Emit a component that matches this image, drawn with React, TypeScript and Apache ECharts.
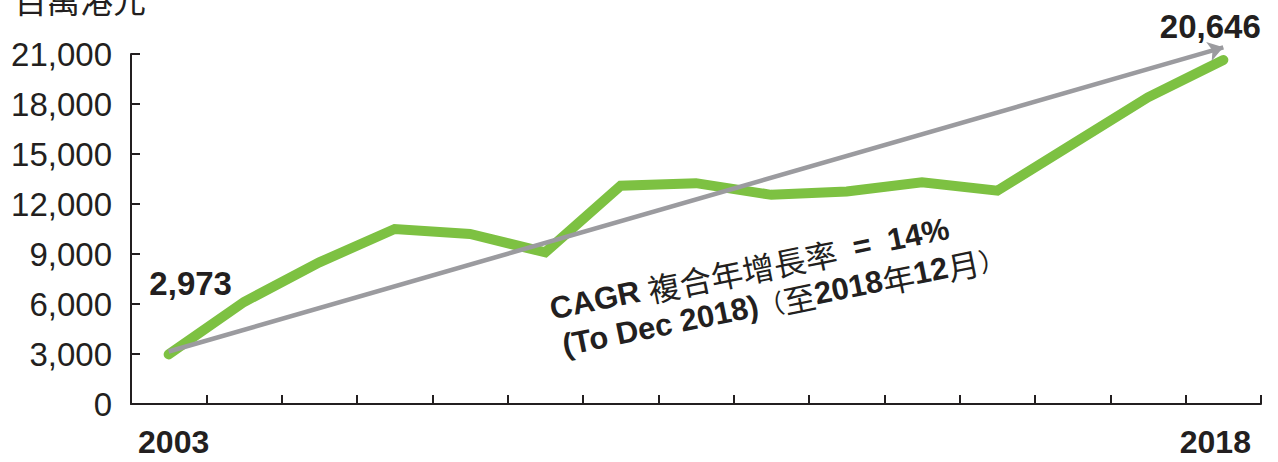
import React, { useEffect, useRef } from "react";
import * as echarts from "echarts";

const xLabels = ["2003", "", "", "", "", "", "", "", "", "", "", "", "", "", "2018"];
const values = [2973, 6120, 8500, 10500, 10200, 9100, 13100, 13250, 12550, 12750, 13300, 12800, 15600, 18400, 20646];
const yTicks = { min: 0, max: 21000, interval: 3000 };
// hidden overlay axis with the same scale, extended so the arrow tip can pass 21,000
const overlayMax = 21600;
const cagrStart = [0.1, 3150];
const cagrEnd = [13.85, 21400];
const unitLabel = "百萬港元";
const cagrLine1 = "{b|CAGR }{c|複合年增長率}{b|  =  14%}";
const cagrLine2 = "{b|(To Dec 2018)}{p|（}{c|至}{b|2018}{c|年}{b|12}{c|月}{p|）}";

const LATIN = "'Liberation Sans', 'Noto Sans CJK TC', sans-serif";
const CJK = "'Noto Sans CJK TC', 'Liberation Sans', sans-serif";
const INK = "#231f20";

export default function App() {
  const ref = useRef<HTMLDivElement>(null);
  useEffect(() => {
    document.body.style.margin = "0";
    const chart = echarts.init(ref.current!, null, { renderer: "svg" });
    const last = values.length - 1;
    const data = values.map((v, i) => {
      if (i === 0) {
        return { value: v, label: { show: true, position: "top", offset: [22, -49] } };
      }
      if (i === last) {
        return { value: v, label: { show: true, position: "top", offset: [-13, -12] } };
      }
      return { value: v };
    });
    const rich = {
      b: { font: `bold 31px ${LATIN}`, fill: INK },
      c: { font: `32px ${CJK}`, fill: INK },
      p: { font: `26px ${CJK}`, fill: INK },
    };
    const plotTop = 54;
    const plotBottom = 58;
    const plotH = 462 - plotTop - plotBottom;
    const overlayTop = plotTop - (plotH * (overlayMax - yTicks.max)) / yTicks.max;
    chart.setOption({
      animation: false,
      grid: [
        { left: 131, right: 17, top: plotTop, bottom: plotBottom },
        { left: 131, right: 17, top: overlayTop, bottom: plotBottom },
      ],
      xAxis: [
        {
          type: "category",
          data: xLabels,
          boundaryGap: true,
          axisLine: { show: true, lineStyle: { color: INK, width: 2 } },
          axisTick: { show: true, inside: true, length: 9, interval: 0, lineStyle: { color: INK, width: 2 } },
          axisLabel: {
            interval: 0,
            margin: 22,
            color: INK,
            fontSize: 32,
            fontWeight: "bold",
            fontFamily: LATIN,
            formatter: (v: string, i: number) => (i === 0 ? `{f|${v}}` : `{l|${v}}`),
            rich: {
              f: { fontSize: 32, fontWeight: "bold", fontFamily: LATIN, color: INK, padding: [0, 0, 0, 10] },
              l: { fontSize: 32, fontWeight: "bold", fontFamily: LATIN, color: INK, padding: [0, 16, 0, 0] },
            },
          },
          splitLine: { show: false },
        },
        {
          type: "category",
          gridIndex: 1,
          data: xLabels,
          boundaryGap: true,
          show: false,
        },
      ],
      yAxis: [
        {
          type: "value",
          min: yTicks.min,
          max: yTicks.max,
          interval: yTicks.interval,
          axisLine: { show: true, lineStyle: { color: INK, width: 2 } },
          axisTick: { show: true, inside: true, length: 9, lineStyle: { color: INK, width: 2 } },
          axisLabel: {
            margin: 19,
            color: INK,
            fontSize: 33,
            fontFamily: LATIN,
            formatter: (v: number) => v.toLocaleString("en-US"),
          },
          splitLine: { show: false },
        },
        {
          type: "value",
          gridIndex: 1,
          min: 0,
          max: overlayMax,
          show: false,
          splitLine: { show: false },
        },
      ],
      series: [
        {
          type: "line",
          xAxisIndex: 1,
          yAxisIndex: 1,
          data: values,
          symbol: "none",
          silent: true,
          clip: false,
          itemStyle: { color: "#9b9b9f" },
          lineStyle: { opacity: 0, width: 0 },
          markLine: {
            silent: true,
            symbol: ["none", "arrow"],
            symbolSize: 15,
            itemStyle: { color: "#9b9b9f" },
            label: { show: false },
            lineStyle: { color: "#9b9b9f", width: 4.5, type: "solid", opacity: 1 },
            data: [[{ coord: cagrStart }, { coord: cagrEnd }]],
          },
          z: 2,
        },
        {
          type: "line",
          data,
          symbol: "circle",
          symbolSize: 0,
          showSymbol: true,
          itemStyle: { color: "#7dc142" },
          lineStyle: { color: "#7dc142", width: 10, cap: "round", join: "miter" },
          label: {
            show: false,
            color: INK,
            fontSize: 33,
            fontWeight: "bold",
            fontFamily: LATIN,
            formatter: (p: any) => Number(p.value).toLocaleString("en-US"),
          },
          z: 3,
        },
      ],
      graphic: [
        {
          type: "text",
          left: 14,
          top: -18,
          style: { text: unitLabel, fill: INK, font: `33px ${CJK}` },
        },
        {
          type: "group",
          x: 552,
          y: 318,
          rotation: 0.2,
          children: [
            {
              type: "text",
              x: 0,
              y: 7,
              style: { text: cagrLine1, fill: INK, verticalAlign: "bottom", rich },
            },
            {
              type: "text",
              x: 5,
              y: 45,
              style: { text: cagrLine2, fill: INK, verticalAlign: "bottom", rich },
            },
          ],
        },
      ],
    });
    return () => chart.dispose();
  }, []);
  return <div ref={ref} style={{ width: 1278, height: 462 }} />;
}
